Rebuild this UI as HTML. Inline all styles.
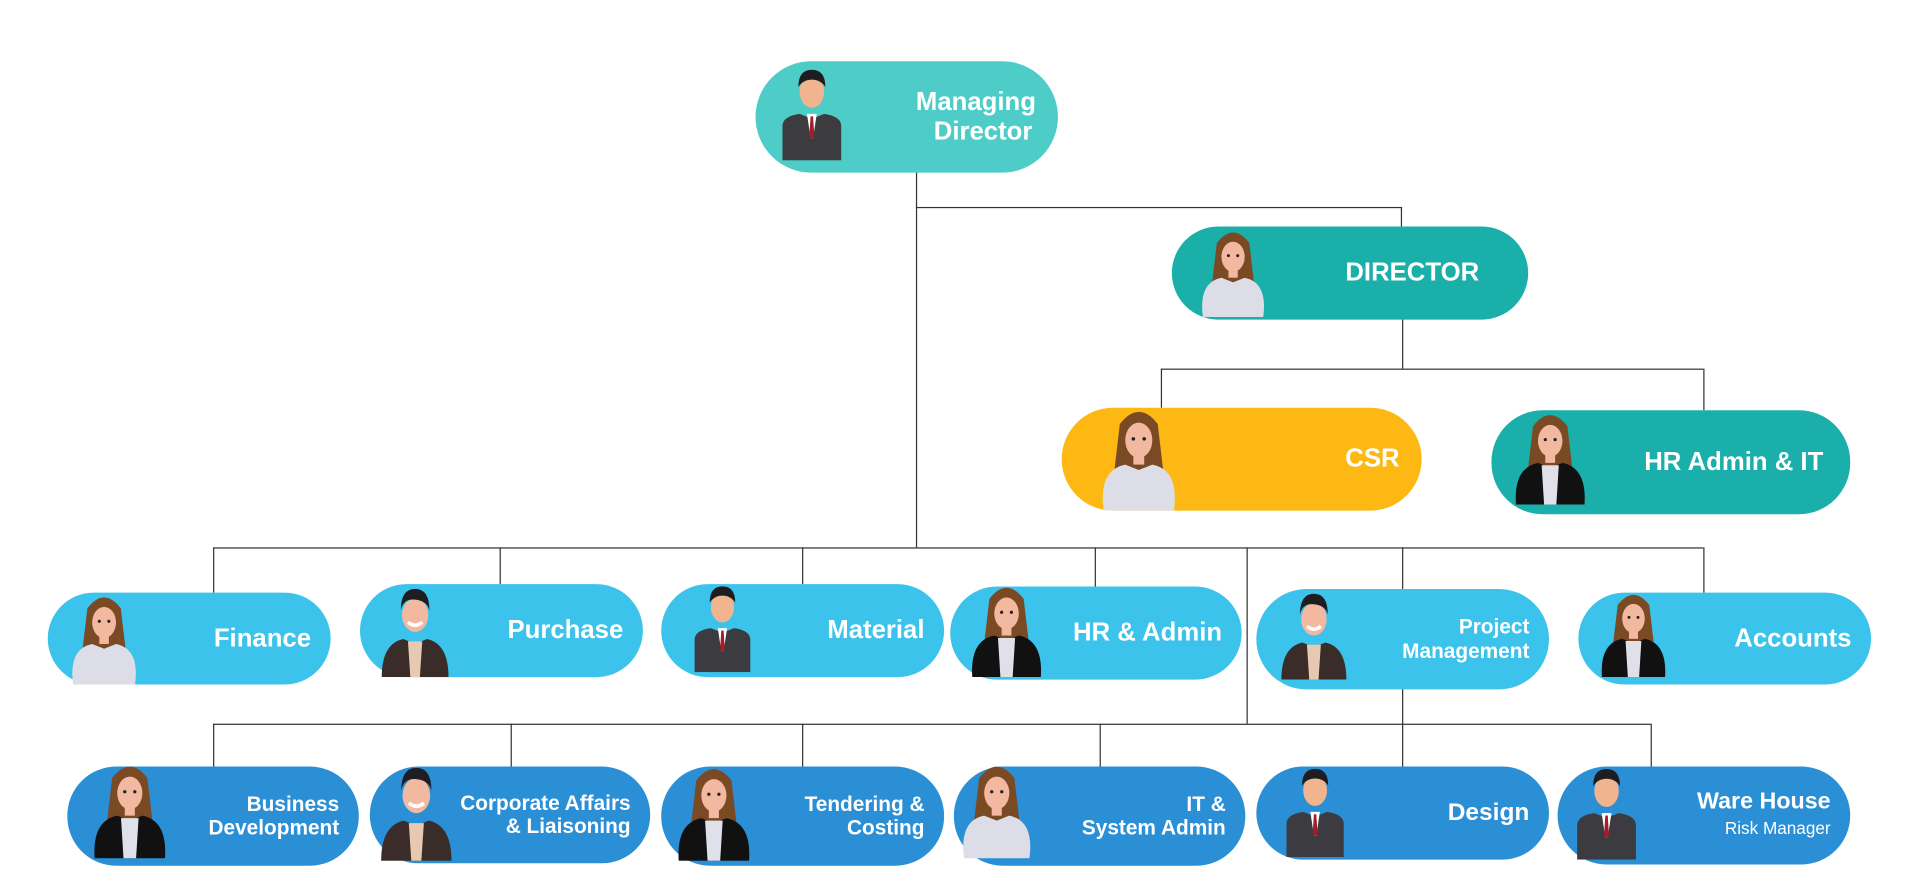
<!DOCTYPE html>
<html><head><meta charset="utf-8"><style>
html,body{margin:0;padding:0;background:#fff;width:1920px;height:869px;overflow:hidden}
#w{position:absolute;left:0;top:0;width:1568px;height:710px;transform:scale(1.2245);transform-origin:0 0;font-family:"Liberation Sans",sans-serif}
.b{position:absolute;border-radius:40px;color:#fff;font-weight:bold;box-sizing:border-box}
.t{position:absolute;right:16px;top:50%;transform:translateY(-50%);text-align:right;line-height:1.15}
.a{position:absolute;left:18px;bottom:0}
.l{position:absolute;background:#333}
.h{height:1px}.v{width:1px}
.r2{background:#3CC3EC}.r3{background:#2B8FD6}
</style></head><body><div id="w">
<svg width="0" height="0" style="position:absolute">
<defs>
<symbol id="W1" viewBox="0 0 60 76"><path d="M16 12q14-18 28 0l4 34h-36z" fill="#7a4a25"/><ellipse cx="30" cy="24" rx="10" ry="13" fill="#f3b9a0"/><rect x="26" y="34" width="8" height="8" fill="#f3b9a0"/><path d="M4 76q-4-30 16-34l10 4 10-4q20 4 16 34z" fill="#dcdde6"/><circle cx="26" cy="23" r="1.3" fill="#222"/><circle cx="34" cy="23" r="1.3" fill="#222"/></symbol>
<symbol id="W2" viewBox="0 0 60 76"><path d="M16 12q14-18 28 0l4 34h-36z" fill="#7a4a25"/><ellipse cx="30" cy="24" rx="10" ry="13" fill="#f3b9a0"/><rect x="26" y="34" width="8" height="8" fill="#f3b9a0"/><path d="M2 76q-2-30 18-34l10 4 10-4q20 4 18 34z" fill="#111"/><path d="M23 44h14l-2 32h-10z" fill="#dfe0ea"/><circle cx="26" cy="23" r="1.3" fill="#222"/><circle cx="34" cy="23" r="1.3" fill="#222"/></symbol>
<symbol id="M1" viewBox="0 0 60 76"><ellipse cx="30" cy="20" rx="10" ry="13" fill="#f0b48e"/><path d="M19 16q0-14 11-14t11 14q-4-6-11-6t-11 6z" fill="#1e1e22"/><path d="M6 76v-28q0-8 14-10l10 4 10-4q14 2 14 10v28z" fill="#3b3b40"/><path d="M26 38h8l-3 20h-2z" fill="#fff"/><path d="M29 40h2l1 16-2 3-2-3z" fill="#a31c2a"/></symbol>
<symbol id="M2" viewBox="0 0 60 76"><ellipse cx="30" cy="24" rx="11" ry="14" fill="#f3b9a0"/><path d="M18 20q0-18 12-18t12 18q-2-8-12-9t-12 9z" fill="#1e1e22"/><path d="M24 30q6 5 12 0" stroke="#fff" stroke-width="3" fill="none"/><path d="M2 76q0-28 18-32l10 4 10-4q18 4 18 32z" fill="#3a2c28"/><path d="M24 46h12l-2 30h-8z" fill="#e6c9b0"/></symbol>
</defs></svg>

<!-- connectors -->
<div class="l v" style="left:748px;top:138px;height:309px"></div>
<div class="l h" style="left:748px;top:169px;width:397px"></div>
<div class="l v" style="left:1144px;top:169px;height:16px"></div>
<div class="l v" style="left:1145px;top:259px;height:42px"></div>
<div class="l h" style="left:948px;top:301px;width:443px"></div>
<div class="l v" style="left:948px;top:301px;height:32px"></div>
<div class="l v" style="left:1391px;top:301px;height:34px"></div>
<div class="l h" style="left:174px;top:447px;width:1217px"></div>
<div class="l v" style="left:174px;top:447px;height:37px"></div>
<div class="l v" style="left:408px;top:447px;height:30px"></div>
<div class="l v" style="left:655px;top:447px;height:30px"></div>
<div class="l v" style="left:894px;top:447px;height:32px"></div>
<div class="l v" style="left:1145px;top:447px;height:34px"></div>
<div class="l v" style="left:1391px;top:447px;height:37px"></div>
<div class="l v" style="left:1018px;top:447px;height:144px"></div>
<div class="l v" style="left:1145px;top:561px;height:65px"></div>
<div class="l h" style="left:174px;top:591px;width:1174px"></div>
<div class="l v" style="left:174px;top:591px;height:35px"></div>
<div class="l v" style="left:417px;top:591px;height:35px"></div>
<div class="l v" style="left:655px;top:591px;height:35px"></div>
<div class="l v" style="left:898px;top:591px;height:35px"></div>
<div class="l v" style="left:1348px;top:591px;height:35px"></div>

<!-- top -->
<div class="b" style="left:617px;top:50px;width:247px;height:91px;border-radius:46px;background:#4ECDC8"><svg class="a" style="left:16px;bottom:10px" width="60" height="76"><use href="#M1"/></svg><div class="t" style="font-size:21px;right:18px;text-align:center">Managing<br>&nbsp;&nbsp;Director</div></div>
<div class="b" style="left:957px;top:185px;width:291px;height:76px;background:#1AAFA8"><svg class="a" style="left:20px;bottom:2px" width="60" height="72"><use href="#W1"/></svg><div class="t" style="font-size:21px;right:40px">DIRECTOR</div></div>
<div class="b" style="left:867px;top:333px;width:294px;height:84px;border-radius:42px;background:#FDB813"><svg class="a" style="left:28px;bottom:0" width="70" height="84"><use href="#W1"/></svg><div class="t" style="font-size:21px;right:18px">CSR</div></div>
<div class="b" style="left:1218px;top:335px;width:293px;height:85px;border-radius:42px;background:#1AAFAA"><svg class="a" style="left:16px;bottom:8px" width="64" height="76"><use href="#W2"/></svg><div class="t" style="font-size:21px;right:22px">HR Admin &amp; IT</div></div>

<!-- row 2 -->
<div class="b r2" style="left:39px;top:484px;width:231px;height:75px"><svg class="a" style="left:14px;bottom:0" width="64" height="74"><use href="#W1"/></svg><div class="t" style="font-size:21px">Finance</div></div>
<div class="b r2" style="left:294px;top:477px;width:231px;height:76px"><svg class="a" style="left:12px;bottom:0" width="66" height="74"><use href="#M2"/></svg><div class="t" style="font-size:21px">Purchase</div></div>
<div class="b r2" style="left:540px;top:477px;width:231px;height:76px"><svg class="a" style="left:20px;bottom:4px" width="60" height="72"><use href="#M1"/></svg><div class="t" style="font-size:21px">Material</div></div>
<div class="b r2" style="left:776px;top:479px;width:238px;height:76px"><svg class="a" style="left:14px;bottom:2px" width="64" height="76"><use href="#W2"/></svg><div class="t" style="font-size:21px">HR &amp; Admin</div></div>
<div class="b r2" style="left:1026px;top:481px;width:239px;height:82px;border-radius:41px"><svg class="a" style="left:14px;bottom:8px" width="66" height="72"><use href="#M2"/></svg><div class="t" style="font-size:17px">Project<br>Management</div></div>
<div class="b r2" style="left:1289px;top:484px;width:239px;height:75px"><svg class="a" style="left:16px;bottom:6px" width="58" height="70"><use href="#W2"/></svg><div class="t" style="font-size:21px">Accounts</div></div>

<!-- row 3 -->
<div class="b r3" style="left:55px;top:626px;width:238px;height:81px"><svg class="a" style="left:18px;bottom:6px" width="66" height="78"><use href="#W2"/></svg><div class="t" style="font-size:17px">Business<br>Development</div></div>
<div class="b r3" style="left:302px;top:626px;width:229px;height:79px"><svg class="a" style="left:4px;bottom:2px" width="68" height="78"><use href="#M2"/></svg><div class="t" style="font-size:17px">Corporate Affairs<br>&amp; Liaisoning</div></div>
<div class="b r3" style="left:540px;top:626px;width:231px;height:81px"><svg class="a" style="left:10px;bottom:4px" width="66" height="78"><use href="#W2"/></svg><div class="t" style="font-size:17px">Tendering &amp;<br>Costing</div></div>
<div class="b r3" style="left:779px;top:626px;width:238px;height:81px"><svg class="a" style="left:0;bottom:6px" width="70" height="78"><use href="#W1"/></svg><div class="t" style="font-size:17px">IT &amp;<br>System Admin</div></div>
<div class="b r3" style="left:1026px;top:626px;width:239px;height:76px"><svg class="a" style="left:18px;bottom:2px" width="60" height="74"><use href="#M1"/></svg><div class="t" style="font-size:20px">Design</div></div>
<div class="b r3" style="left:1272px;top:626px;width:239px;height:80px"><svg class="a" style="left:10px;bottom:4px" width="60" height="76"><use href="#M1"/></svg><div class="t" style="font-size:19px;line-height:1.1">Ware House<br><span style="font-size:14px;font-weight:normal">Risk Manager</span></div></div>
</div></body></html>
